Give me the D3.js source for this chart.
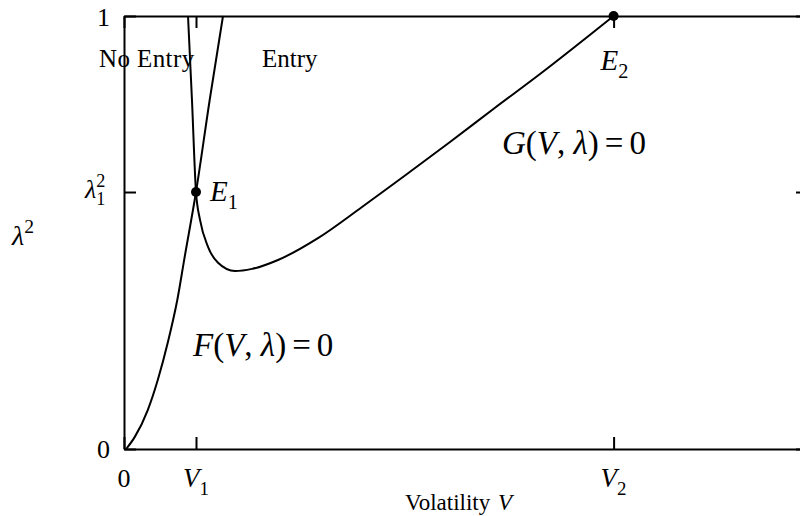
<!DOCTYPE html>
<html>
<head>
<meta charset="utf-8">
<script src="https://cdn.jsdelivr.net/npm/d3@7"></script>
<style>
  body { margin: 0; background: #fff; }
  svg { display: block; }
  svg text { font-family: "Liberation Serif", "Times New Roman", Times, "DejaVu Serif", serif; }
</style>
</head>
<body>
<svg id="chart" width="800" height="516"></svg>
<script>
// Tick positions on the volatility (V) and lambda-squared axes
const xTickValues = [0, 1, 6.8];
const yTickValues = [0, 0.5935, 1];

// Boundary F(V, λ) = 0
const fVolatility = [0.03, 0.15, 0.33, 0.47, 0.61, 0.74, 0.84, 1.0, 1.19, 1.375];
const fLambdaSq   = [0.0, 0.028, 0.09, 0.16, 0.247, 0.344, 0.441, 0.5935, 0.806, 1.0];

// Boundary G(V, λ) = 0
const gVolatility = [0.889, 0.944, 1.0, 1.056, 1.167, 1.306, 1.542, 1.778, 2.139, 2.694, 3.306, 3.931, 4.528, 5.153, 5.778, 6.8];
const gLambdaSq   = [1.0, 0.806, 0.5935, 0.529, 0.467, 0.43, 0.411, 0.416, 0.4365, 0.487, 0.559, 0.635, 0.709, 0.788, 0.866, 1.0];

// Equilibrium points E1, E2
const pointVolatility = [1.0, 6.8];
const pointLambdaSq   = [0.5935, 1.0];

const svg = d3.select("#chart");
const x = d3.scaleLinear().domain([0, 9.5]).range([124, 808]);
const y = d3.scaleLinear().domain([0, 1]).range([449, 16]);

// Render a small piece of math-style text: parts are {t, it, pos ('sub'|'sup'), dx}
function mathText(px, py, parts, size, anchor) {
  const t = svg.append("text")
    .attr("x", px).attr("y", py)
    .attr("font-size", size)
    .attr("fill", "#000")
    .attr("text-anchor", anchor || "start");
  let shift = 0;
  parts.forEach(p => {
    let target = 0, fs = size;
    if (p.pos === "sub") { target = 0.28 * size; fs = 0.7 * size; }
    if (p.pos === "sup") { target = -0.42 * size; fs = 0.7 * size; }
    const s = t.append("tspan").text(p.t).attr("font-size", fs)
      .attr("dy", target - shift);
    if (p.dx) s.attr("dx", p.dx);
    if (p.it) s.attr("font-style", "italic");
    shift = target;
  });
  return t;
}

// Frame axes with inward ticks
function styleAxis(g) {
  g.selectAll("path.domain").attr("stroke-width", 2);
  g.selectAll(".tick line").attr("stroke-width", 2);
  g.selectAll(".tick text").remove();
}
svg.append("g").attr("transform", `translate(0,${y(0)})`)
  .call(d3.axisBottom(x).tickValues(xTickValues).tickSize(-12).tickSizeOuter(0))
  .call(styleAxis);
svg.append("g").attr("transform", `translate(0,${y(1)})`)
  .call(d3.axisTop(x).tickValues(xTickValues).tickSize(-12).tickSizeOuter(0))
  .call(styleAxis);
svg.append("g").attr("transform", `translate(${x(0)},0)`)
  .call(d3.axisLeft(y).tickValues(yTickValues).tickSize(-12).tickSizeOuter(0))
  .call(styleAxis);
svg.append("g").attr("transform", `translate(${x(9.5)},0)`)
  .call(d3.axisRight(y).tickValues(yTickValues).tickSize(-12).tickSizeOuter(0))
  .call(styleAxis);

// Curves
const line = d3.line().x(d => x(d[0])).y(d => y(d[1])).curve(d3.curveMonotoneX);
svg.append("path").datum(d3.zip(fVolatility, fLambdaSq))
  .attr("d", line).attr("fill", "none").attr("stroke", "#000").attr("stroke-width", 2);
svg.append("path").datum(d3.zip(gVolatility, gLambdaSq))
  .attr("d", line).attr("fill", "none").attr("stroke", "#000").attr("stroke-width", 2);

// Equilibrium markers
svg.selectAll("circle.pt").data(d3.zip(pointVolatility, pointLambdaSq)).join("circle")
  .attr("class", "pt").attr("cx", d => x(d[0])).attr("cy", d => y(d[1])).attr("r", 5).attr("fill", "#000");

// Axis tick labels
mathText(x(0), y(0) + 38, [{t: "0"}], 26, "middle");
mathText(x(xTickValues[1]), y(0) + 38, [{t: "V", it: true}, {t: "1", pos: "sub"}], 27, "middle");
mathText(x(xTickValues[2]), y(0) + 38, [{t: "V", it: true}, {t: "2", pos: "sub"}], 27, "middle");
mathText(x(0) - 14, y(0) + 9, [{t: "0"}], 26, "end");
mathText(x(0) - 14, y(1) + 10, [{t: "1"}], 26, "end");
mathText(x(0) - 39, y(yTickValues[1]) + 6, [{t: "λ", it: true}, {t: "1", pos: "sub"}, {t: "2", pos: "sup", dx: -9}], 26, "start");

// Axis titles
mathText(12, 245, [{t: "λ", it: true}, {t: "2", pos: "sup"}], 28, "start");
mathText(405, 510, [{t: "Volatility "}, {t: "V", it: true, dx: 2}], 23, "start");

// Region and curve annotations
mathText(99, 67, [{t: "No Entry"}], 25, "start").attr("letter-spacing", 0.4);
mathText(262, 67, [{t: "Entry"}], 25, "start");
mathText(x(pointVolatility[0]) + 14, y(pointLambdaSq[0]) + 9, [{t: "E", it: true}, {t: "1", pos: "sub"}], 29, "start");
mathText(x(pointVolatility[1]) - 13, y(pointLambdaSq[1]) + 54, [{t: "E", it: true}, {t: "2", pos: "sub"}], 29, "start");
mathText(502, 154, [{t: "G", it: true}, {t: "("}, {t: "V", it: true}, {t: ", "}, {t: "λ", it: true}, {t: ")"}, {t: "=", dx: 6}, {t: "0", dx: 6}], 33, "start");
mathText(193, 356, [{t: "F", it: true}, {t: "("}, {t: "V", it: true}, {t: ", "}, {t: "λ", it: true}, {t: ")"}, {t: "=", dx: 6}, {t: "0", dx: 6}], 33, "start");
</script>
</body>
</html>
